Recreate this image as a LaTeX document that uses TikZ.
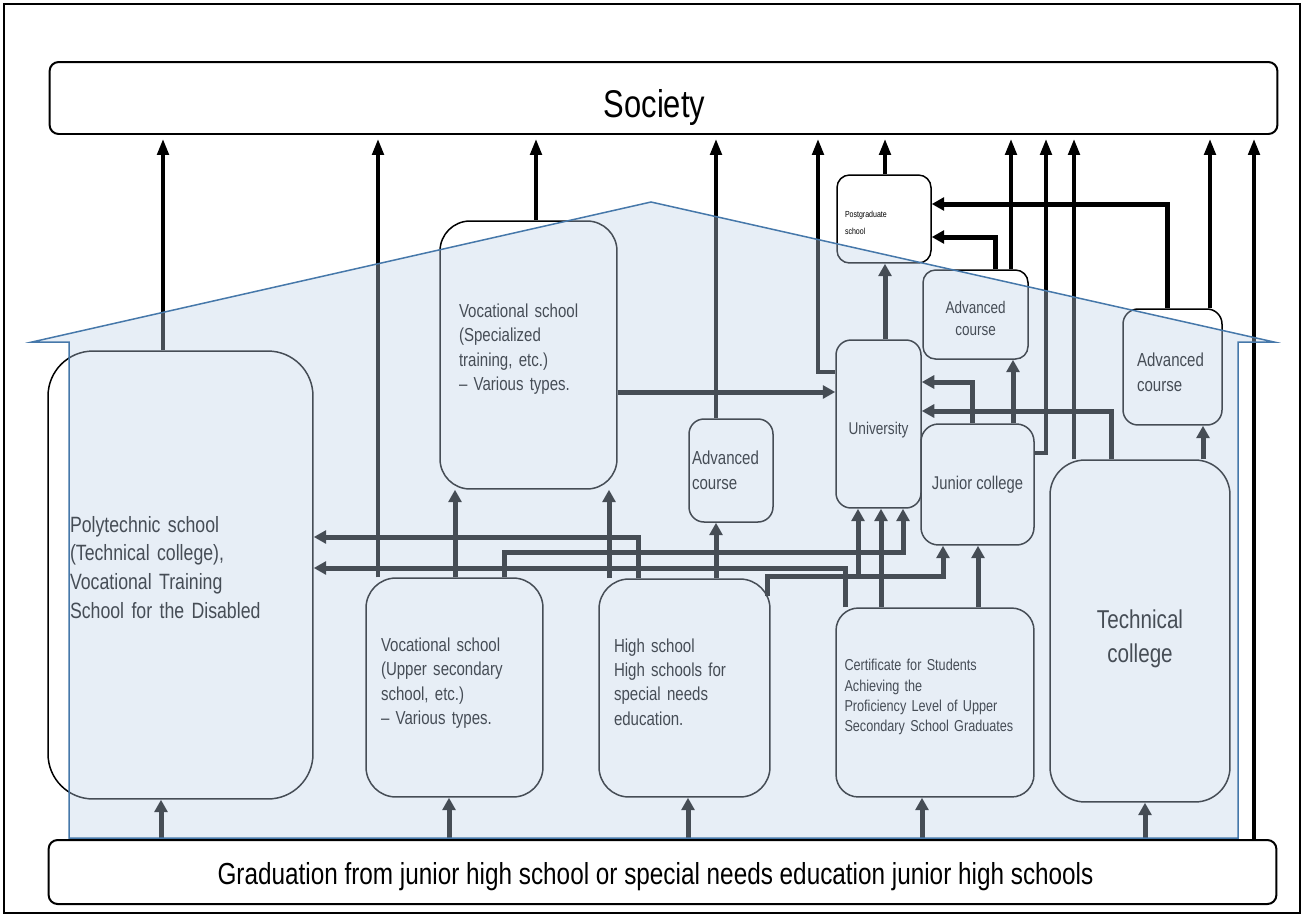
\documentclass[tikz,border=0pt]{standalone}
\usepackage{fontspec}
\setmainfont[FakeStretch=0.8]{Liberation Sans}
\usepackage{tikz}
\usetikzlibrary{arrows.meta,positioning}

\definecolor{wall}{RGB}{70,120,170}
\definecolor{tint}{RGB}{190,209,233}
% struts that move a text block up or down inside its box
\newcommand\padbelow[1]{\rule[-#1]{0pt}{#1}}
\newcommand\padabove[1]{\rule{0pt}{#1}}

\begin{document}
\begin{tikzpicture}[
    x=0.02cm, y=-0.02cm,
    box/.style = {rectangle, rounded corners=#1, draw=black, line width=0.03cm,
                  inner sep=0pt, align=left},
    box/.default = 0.5cm,
    band/.style = {rectangle, rounded corners=0.18cm, draw=black, line width=0.04cm,
                   minimum width=24.56cm, inner sep=0pt},
    tosoc/.style = {-{Triangle[length=0.32cm, width=0.23cm]}, line width=0.07cm, shorten >=0.08cm},
    flow/.style = {-{Triangle[length=0.25cm, width=0.26cm]}, line width=0.1cm}
  ]
    \useasboundingbox (0,0) rectangle (1305,917);
    \fill[white] (0,0) rectangle (1305,917);
    \draw[line width=0.05cm] (4,4) rectangle (1300,913);

    \node[band, minimum height=1.44cm, font=\fontsize{22}{24}\selectfont] (soc) at (663.5,98)
      {\padabove{26.5pt}Society\kern0.36cm};
    \node[band, minimum height=1.28cm, font=\fontsize{17.3}{20}\selectfont] (grad) at (662.5,872)
      {\padabove{17.8pt}Graduation from junior high school or special needs education junior high schools\kern0.28cm};

    \node[box=0.9cm, minimum width=5.3cm, minimum height=8.96cm, text width=4.42cm,
          font=\fontsize{12.6}{16.3}\selectfont] (poly) at (180.5,575)
      {Polytechnic school\\(Technical college),\\Vocational Training\\School for the Disabled\padbelow{9pt}};
    \node[box=0.6cm, minimum width=3.54cm, minimum height=5.36cm, text width=2.78cm,
          font=\fontsize{10.7}{13.9}\selectfont] (vsp) at (528.5,355)
      {Vocational school\\(Specialized\\training, etc.)\\– Various types.\padbelow{9pt}};
    \node[box=0.6cm, minimum width=3.54cm, minimum height=4.38cm, text width=2.94cm,
          font=\fontsize{10.7}{13.9}\selectfont] (vus) at (454.5,687.5)
      {Vocational school\\(Upper secondary\\school, etc.)\\– Various types.\padbelow{7pt}};
    \node[box=0.6cm, minimum width=3.42cm, minimum height=4.36cm, text width=2.82cm,
          font=\fontsize{10.7}{13.9}\selectfont] (hs) at (684.5,688)
      {High school\\High schools for\\special needs\\education.\padbelow{7pt}};
    \node[box=0.3cm, minimum width=1.68cm, minimum height=2.06cm, text width=1.56cm,
          font=\fontsize{10.7}{14}\selectfont] (adm) at (731,470.5) {Advanced\\course};
    \node[box=0.3cm, minimum width=1.7cm, minimum height=3.36cm, align=center,
          font=\fontsize{9.7}{12}\selectfont] (uni) at (878.5,424) {\padabove{13.5pt}University};
    \node[box=0.35cm, minimum width=2.26cm, minimum height=2.42cm, align=center,
          font=\fontsize{10.5}{13}\selectfont] (jc) at (977.5,484.5) {Junior college};
    \node[box=0.25cm, minimum width=1.88cm, minimum height=1.76cm, text width=1.56cm,
          font=\fontsize{5}{9.6}\selectfont] (pg) at (884,219) {\padabove{8pt}Postgraduate\\school};
    \node[box=0.25cm, minimum width=2.1cm, minimum height=1.78cm, align=center,
          font=\fontsize{9.6}{13}\selectfont] (adt) at (975.5,314.5) {\padabove{11.5pt}Advanced\\course};
    \node[box=0.3cm, minimum width=1.98cm, minimum height=2.32cm, text width=1.42cm,
          font=\fontsize{10.7}{14}\selectfont] (adr) at (1172.5,367) {\padabove{13.5pt}Advanced\\course};
    \node[box=0.45cm, minimum width=3.96cm, minimum height=3.78cm, text width=3.62cm,
          font=\fontsize{9}{11.5}\selectfont] (cert) at (935,702.5)
      {Certificate for Students\\Achieving the\\Proficiency Level of Upper\\Secondary School Graduates\padbelow{8pt}};
    \node[box=0.7cm, minimum width=3.6cm, minimum height=6.84cm, align=center,
          font=\fontsize{14.7}{19.8}\selectfont] (tc) at (1140,631) {\padabove{19.5pt}Technical\\college};

    % up to society
    \draw[tosoc] (163,0 |- poly.north) -- (163,0 |- soc.south);
    \draw[tosoc] (378,0 |- vus.north) -- (378,0 |- soc.south);
    \draw[tosoc] (536,0 |- vsp.north) -- (536,0 |- soc.south);
    \draw[tosoc] (716,0 |- adm.north) -- (716,0 |- soc.south);
    \draw[tosoc] (uni.west |- 0,372) -| (818,0 |- soc.south);
    \draw[tosoc] (885,0 |- pg.north) -- (885,0 |- soc.south);
    \draw[tosoc] (1011,0 |- adt.north) -- (1011,0 |- soc.south);
    \draw[tosoc] (jc.east |- 0,453) -| (1046,0 |- soc.south);
    \draw[tosoc] (1074,0 |- tc.north) -- (1074,0 |- soc.south);
    \draw[tosoc] (1210,0 |- adr.north) -- (1210,0 |- soc.south);
    \draw[tosoc] (1254,0 |- grad.north) -- (1254,0 |- soc.south);

    % from graduation
    \draw[flow] (161,0 |- grad.north) -- (161,0 |- poly.south);
    \draw[flow] (449,0 |- grad.north) -- (449,0 |- vus.south);
    \draw[flow] (688,0 |- grad.north) -- (688,0 |- hs.south);
    \draw[flow] (922,0 |- grad.north) -- (922,0 |- cert.south);
    \draw[flow] (1145,0 |- grad.north) -- (1145,0 |- tc.south);

    % between schools
    \draw[flow] (vsp.east |- 0,392) -- (uni.west |- 0,392);
    \draw[flow] (716,0 |- hs.north) -- (716,0 |- adm.south);
    \draw[flow] (455,0 |- vus.north) -- (455,0 |- vsp.south);
    \draw[flow] (609,0 |- hs.north) -- (609,0 |- vsp.south);
    \draw[flow] (638,0 |- hs.north) |- (poly.east |- 0,537);
    \draw[flow] (845,0 |- cert.north) |- (poly.east |- 0,568);
    \draw[flow] (504,0 |- vus.north) -- (504,552) -| (903,0 |- uni.south);
    \draw[flow] ([xshift=-0.06cm, yshift=-0.36cm]hs.north east) -- ++(0,-20) -| (943,0 |- jc.south);
    \coordinate (fork) at (858,577);
    \draw[flow] (fork) -- (fork |- uni.south);
    \draw[flow] (881,0 |- cert.north) -- (881,0 |- uni.south);
    \draw[flow] (978,0 |- cert.north) -- (978,0 |- jc.south);
    \draw[flow] (1013,0 |- jc.north) -- (1013,0 |- adt.south);
    \draw[flow] (972,0 |- jc.north) |- (uni.east |- 0,382);
    \draw[flow] (1111,0 |- tc.north) |- (uni.east |- 0,411);
    \draw[flow] (1203,0 |- tc.north) -- (1203,0 |- adr.south);
    \draw[flow] (885,0 |- uni.north) -- (885,0 |- pg.south);
    \draw[flow] (995,0 |- adt.north) |- (pg.east |- 0,237);
    \draw[flow] (1167,0 |- adr.north) |- (pg.east |- 0,204);

    % house
    \filldraw[fill=tint, fill opacity=0.37, draw=wall, line width=0.03cm]
      (32,342) -- (651,202) -- (1274,342) -- (1238,342) -- (1238,838)
      -- (69,838) -- (69,342) -- cycle;
  \end{tikzpicture}
\end{document}
